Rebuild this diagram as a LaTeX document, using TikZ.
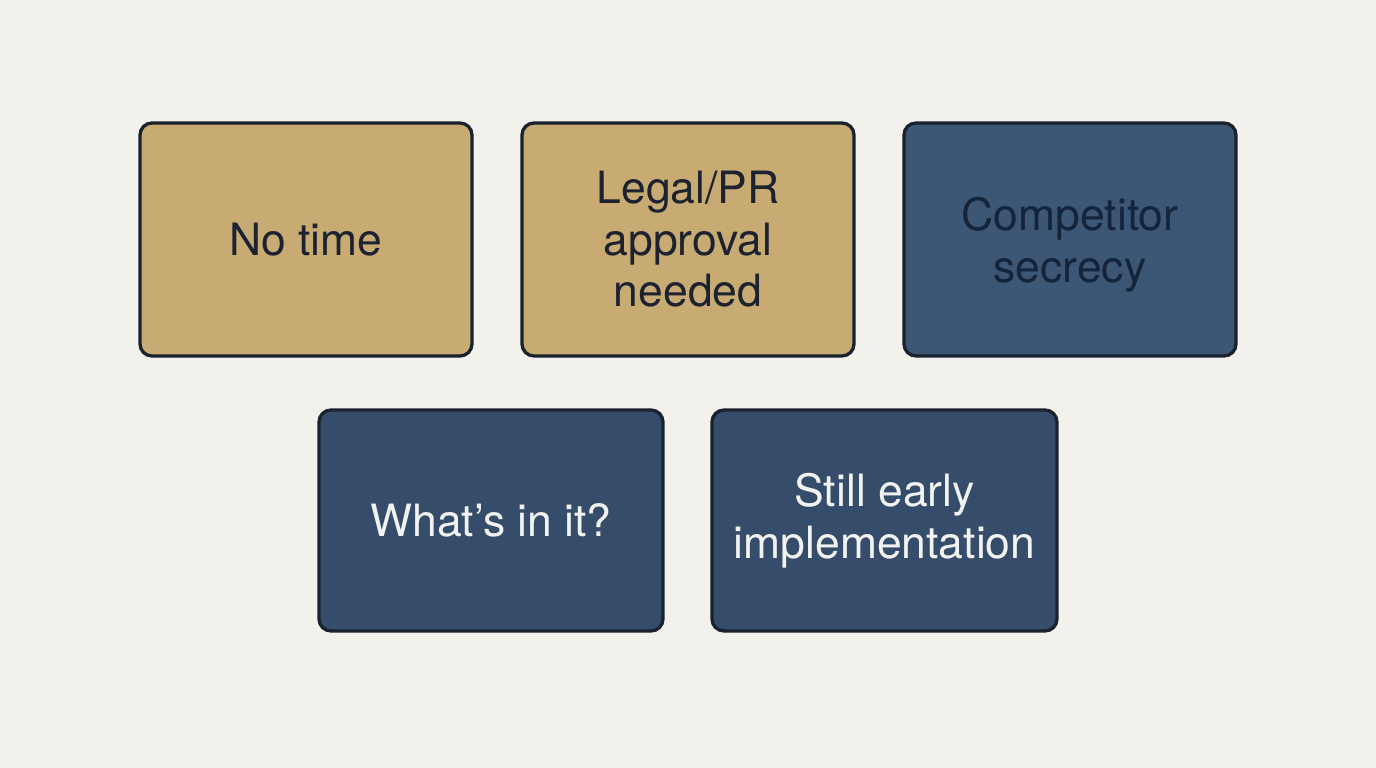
\documentclass[tikz,border=0pt]{standalone}
\usepackage{fontspec}
\setmainfont{TeX Gyre Heros}
\definecolor{bg}{HTML}{F2F1EC}
\definecolor{gold}{HTML}{C8AB72}
\definecolor{navyA}{HTML}{3C5676}
\definecolor{navyB}{HTML}{354D6B}
\definecolor{edge}{HTML}{1A222E}
\definecolor{darktext}{HTML}{1C2230}
\definecolor{navytext}{HTML}{14243A}
\definecolor{lighttext}{HTML}{F2F2F0}
\tikzset{
  card/.style={draw=edge, line width=3.3pt, rounded corners=12pt, align=center,
    font=\fontsize{44.5}{51.5}\selectfont, inner sep=0pt},
}
\begin{document}
\begin{tikzpicture}[x=1pt,y=-1pt]
\fill[bg] (0,0) rectangle (1376,768);
\useasboundingbox (0,0) rectangle (1376,768);
\node[card, fill=gold, text=darktext, minimum width=332pt, minimum height=233pt] (a) at (306,239.5) {No time};
\node[card, fill=gold, text=darktext, minimum width=332pt, minimum height=233pt] (b) at (688,239.5) {Legal/PR\\approval\\needed};
\node[card, fill=navyA, minimum width=332pt, minimum height=233pt] (c) at (1070,239.5) {};
\node[text=navytext, align=center, font=\fontsize{44.5}{51.5}\selectfont, inner sep=0pt] (ct) at (1070,244.5) {Competitor\\secrecy};
\node[card, fill=navyB, text=lighttext, minimum width=344pt, minimum height=221pt] (d) at (491,520.5) {What’s in it?};
\node[card, fill=navyB, text=lighttext, minimum width=345pt, minimum height=221pt] (e) at (884.5,520.5) {Still early\\implementation};
\end{tikzpicture}
\end{document}
